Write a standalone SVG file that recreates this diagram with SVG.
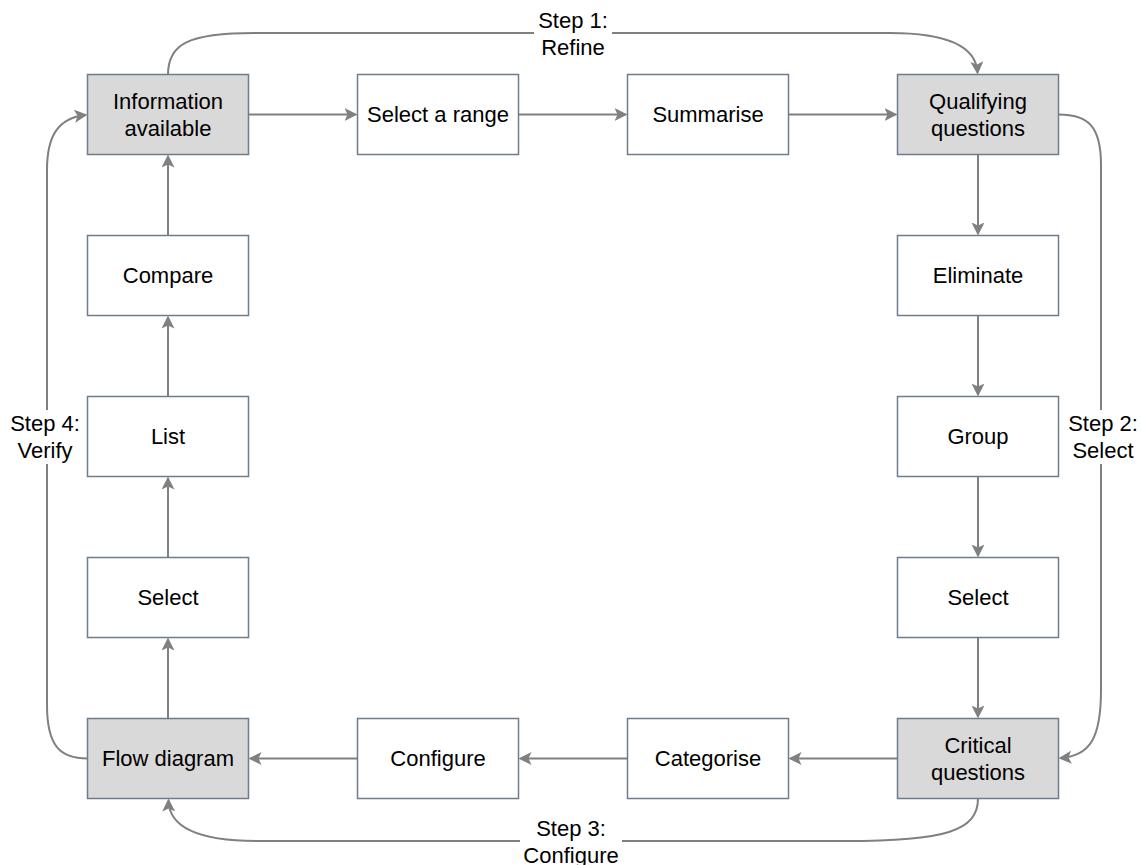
<svg xmlns="http://www.w3.org/2000/svg" width="1142" height="865" viewBox="0 0 1142 865">
  <style>
    .box { fill: #ffffff; stroke: #6e7d8e; stroke-width: 1.5; }
    .key { fill: #d9d9d9; }
    .lbl { font-family: "Liberation Sans", Arial, sans-serif; font-size: 22px; fill: #000000; text-anchor: middle; dominant-baseline: central; }
    .edge { fill: none; stroke: #808080; stroke-width: 2; marker-end: url(#arrow); }
    .gap { fill: #ffffff; }
  </style>
  <defs>
    <marker id="arrow" markerUnits="userSpaceOnUse" markerWidth="14" markerHeight="14" refX="11" refY="6.5" orient="auto">
      <path d="M0,0 L13,6.5 L0,13 L3,6.5 z" fill="#808080"/>
    </marker>
  </defs>
  <rect width="1142" height="865" fill="#ffffff"/>

  <!-- connectors -->
  <g id="connectors">
    <!-- top row, left to right -->
    <path class="edge" d="M248.5,114.5 H355.5"/>
    <path class="edge" d="M518.5,114.5 H625.5"/>
    <path class="edge" d="M788.5,114.5 H895.5"/>
    <!-- right column, downwards -->
    <path class="edge" d="M978,154.5 V233.5"/>
    <path class="edge" d="M978,315.5 V394.5"/>
    <path class="edge" d="M978,476.5 V555.5"/>
    <path class="edge" d="M978,637.5 V716.5"/>
    <!-- bottom row, right to left -->
    <path class="edge" d="M897.5,758.5 H790.5"/>
    <path class="edge" d="M627.5,758.5 H520.5"/>
    <path class="edge" d="M357.5,758.5 H250.5"/>
    <!-- left column, upwards -->
    <path class="edge" d="M168,718.5 V639.5"/>
    <path class="edge" d="M168,557.5 V478.5"/>
    <path class="edge" d="M168,396.5 V317.5"/>
    <path class="edge" d="M168,235.5 V156.5"/>
    <!-- outer loop: steps 1 to 4 -->
    <path class="edge" d="M168,74.5 C168,44 188,33 255,33 H890 C948,33 976,46 977.5,72.5"/>
    <path class="edge" d="M1058.5,114.5 C1088,114.5 1101,126 1101,165 V690 C1101,738 1090,756 1060.5,758"/>
    <path class="edge" d="M978,798.5 C978,831 945,841 845,841 H258 C204,841 169,830 168.5,800.5"/>
    <path class="edge" d="M87.5,758.5 C60,758.5 47,746 47,705 V170 C47,136 58,118 85.5,115"/>
  </g>

  <!-- step labels -->
  <g id="step1">
    <rect class="gap" x="534" y="8" width="78" height="52"/>
    <text class="lbl" x="573" y="20">Step 1:</text>
    <text class="lbl" x="573" y="47">Refine</text>
  </g>
  <g id="step2">
    <rect class="gap" x="1064" y="410" width="76" height="54"/>
    <text class="lbl" x="1103" y="423.5">Step 2:</text>
    <text class="lbl" x="1103" y="450.5">Select</text>
  </g>
  <g id="step3">
    <rect class="gap" x="520" y="814" width="102" height="51"/>
    <text class="lbl" x="571" y="828">Step 3:</text>
    <text class="lbl" x="571" y="855">Configure</text>
  </g>
  <g id="step4">
    <rect class="gap" x="8" y="410" width="76" height="54"/>
    <text class="lbl" x="45" y="423.5">Step 4:</text>
    <text class="lbl" x="45" y="450.5">Verify</text>
  </g>

  <!-- top row -->
  <g id="information-available">
    <rect class="box key" x="87.5" y="74.5" width="161" height="80"/>
    <text class="lbl" x="168" y="101">Information</text>
    <text class="lbl" x="168" y="128">available</text>
  </g>
  <g id="select-a-range">
    <rect class="box" x="357.5" y="74.5" width="161" height="80"/>
    <text class="lbl" x="438" y="114.5">Select a range</text>
  </g>
  <g id="summarise">
    <rect class="box" x="627.5" y="74.5" width="161" height="80"/>
    <text class="lbl" x="708" y="114.5">Summarise</text>
  </g>
  <g id="qualifying-questions">
    <rect class="box key" x="897.5" y="74.5" width="161" height="80"/>
    <text class="lbl" x="978" y="101">Qualifying</text>
    <text class="lbl" x="978" y="128">questions</text>
  </g>

  <!-- right column -->
  <g id="eliminate">
    <rect class="box" x="897.5" y="235.5" width="161" height="80"/>
    <text class="lbl" x="978" y="275.5">Eliminate</text>
  </g>
  <g id="group">
    <rect class="box" x="897.5" y="396.5" width="161" height="80"/>
    <text class="lbl" x="978" y="436.5">Group</text>
  </g>
  <g id="select-right">
    <rect class="box" x="897.5" y="557.5" width="161" height="80"/>
    <text class="lbl" x="978" y="597.5">Select</text>
  </g>

  <!-- bottom row -->
  <g id="critical-questions">
    <rect class="box key" x="897.5" y="718.5" width="161" height="80"/>
    <text class="lbl" x="978" y="745">Critical</text>
    <text class="lbl" x="978" y="772">questions</text>
  </g>
  <g id="categorise">
    <rect class="box" x="627.5" y="718.5" width="161" height="80"/>
    <text class="lbl" x="708" y="758.5">Categorise</text>
  </g>
  <g id="configure">
    <rect class="box" x="357.5" y="718.5" width="161" height="80"/>
    <text class="lbl" x="438" y="758.5">Configure</text>
  </g>
  <g id="flow-diagram">
    <rect class="box key" x="87.5" y="718.5" width="161" height="80"/>
    <text class="lbl" x="168" y="758.5">Flow diagram</text>
  </g>

  <!-- left column -->
  <g id="select-left">
    <rect class="box" x="87.5" y="557.5" width="161" height="80"/>
    <text class="lbl" x="168" y="597.5">Select</text>
  </g>
  <g id="list">
    <rect class="box" x="87.5" y="396.5" width="161" height="80"/>
    <text class="lbl" x="168" y="436.5">List</text>
  </g>
  <g id="compare">
    <rect class="box" x="87.5" y="235.5" width="161" height="80"/>
    <text class="lbl" x="168" y="275.5">Compare</text>
  </g>
</svg>
